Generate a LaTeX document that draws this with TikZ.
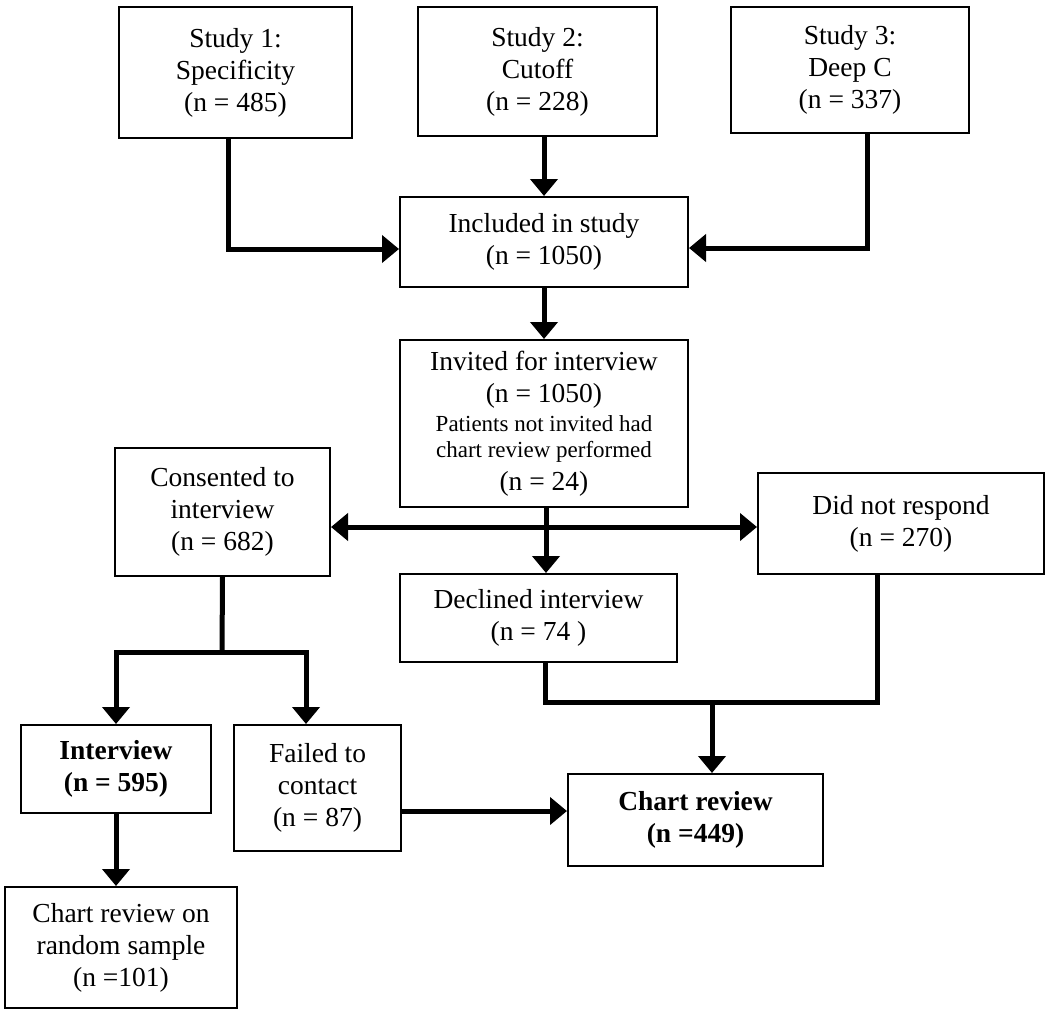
\documentclass[tikz,border=0pt]{standalone}
\usepackage{fontspec}
\setmainfont{Liberation Serif}
\usetikzlibrary{arrows.meta}
\begin{document}
\begin{tikzpicture}[x=1pt,y=-1pt,
  box/.style={draw=black,line width=2pt,inner sep=0pt,align=center,
    font=\fontsize{27.5}{32}\selectfont},
  conn/.style={line width=5pt,line join=miter,line cap=butt},
  arr/.style={conn,-{Triangle[width=27pt,length=17pt]}},
  arrtwo/.style={conn,{Triangle[width=27pt,length=17pt]}-{Triangle[width=27pt,length=17pt]}}]
\useasboundingbox (0,0) rectangle (1050,1012);
\fill[white] (0,0) rectangle (1050,1012);
% boxes
\node[box,minimum width=233pt,minimum height=131pt] (s1) at (235.5,72.5) {Study 1:\\Specificity\\(n = 485)};
\node[box,minimum width=239pt,minimum height=129pt] (s2) at (537.5,71.5) {Study 2:\\Cutoff\\(n = 228)};
\node[box,minimum width=238pt,minimum height=126pt] (s3) at (850,70) {Study 3:\\Deep C\\(n = 337)};
\node[box,minimum width=288pt,minimum height=90pt] (inc) at (544,242) {Included in study\\(n = 1050)};
\node[box,minimum width=288pt,minimum height=167pt] (inv) at (544,423.5) {Invited for interview\\(n = 1050)\\[-3pt]{\fontsize{23}{25}\selectfont Patients not invited had}\\[-6pt]{\fontsize{23}{25}\selectfont chart review performed}\\[1pt](n = 24)};
\node[box,minimum width=215pt,minimum height=128pt] (cons) at (222.5,512) {Consented to\\interview\\(n = 682)};
\node[box,minimum width=286pt,minimum height=101pt] (dnr) at (901,523.5) {Did not respond\\(n = 270)};
\node[box,minimum width=277pt,minimum height=88pt] (dec) at (538.5,618) {Declined interview\\(n = 74 )};
\node[box,minimum width=190pt,minimum height=88pt] (intv) at (116,769) {\bfseries Interview\\\bfseries (n = 595)};
\node[box,minimum width=167pt,minimum height=126pt] (fail) at (317.5,788) {Failed to\\contact\\(n = 87)};
\node[box,minimum width=255pt,minimum height=92pt] (chart) at (695.5,820) {\bfseries Chart review\\\bfseries (n =449)};
\node[box,minimum width=232pt,minimum height=121pt] (rand) at (121,947.5) {Chart review on\\random sample\\(n =101)};
% junction coordinates
\coordinate (split) at (222,652);
\coordinate (merge) at (712,702);
% connectors
\draw[arr] ([xshift=-7.5pt]s1.south) |- ([yshift=-7pt]inc.west);
\draw[arr] (inc.north |- s2.south) -- (inc.north);
\draw[arr] ([xshift=17pt]s3.south) |- ([yshift=-6pt]inc.east);
\draw[arr] (inc.south) -- (inv.north);
\draw[arr] ([xshift=2pt]inv.south) -- ([xshift=2pt]inv.south |- dec.north);
\draw[arrtwo] ([yshift=-15pt]cons.east) -- ([yshift=-15pt]cons.east -| dnr.west);
\draw[conn] (cons.south) -- (split);
\draw[arr] (split) -| (intv.north);
\draw[arr] (split) -| ([xshift=-11.5pt]fail.north);
\draw[arr] (intv.south) -- (intv.south |- rand.north);
\draw[arr] ([yshift=-23pt]fail.east) -- ([yshift=-23pt]fail.east -| chart.west);
\draw[conn] ([xshift=6.5pt]dec.south) |- (merge) -| ([xshift=-24pt]dnr.south);
\draw[arr] (merge) -- (merge |- chart.north);
\end{tikzpicture}
\end{document}
